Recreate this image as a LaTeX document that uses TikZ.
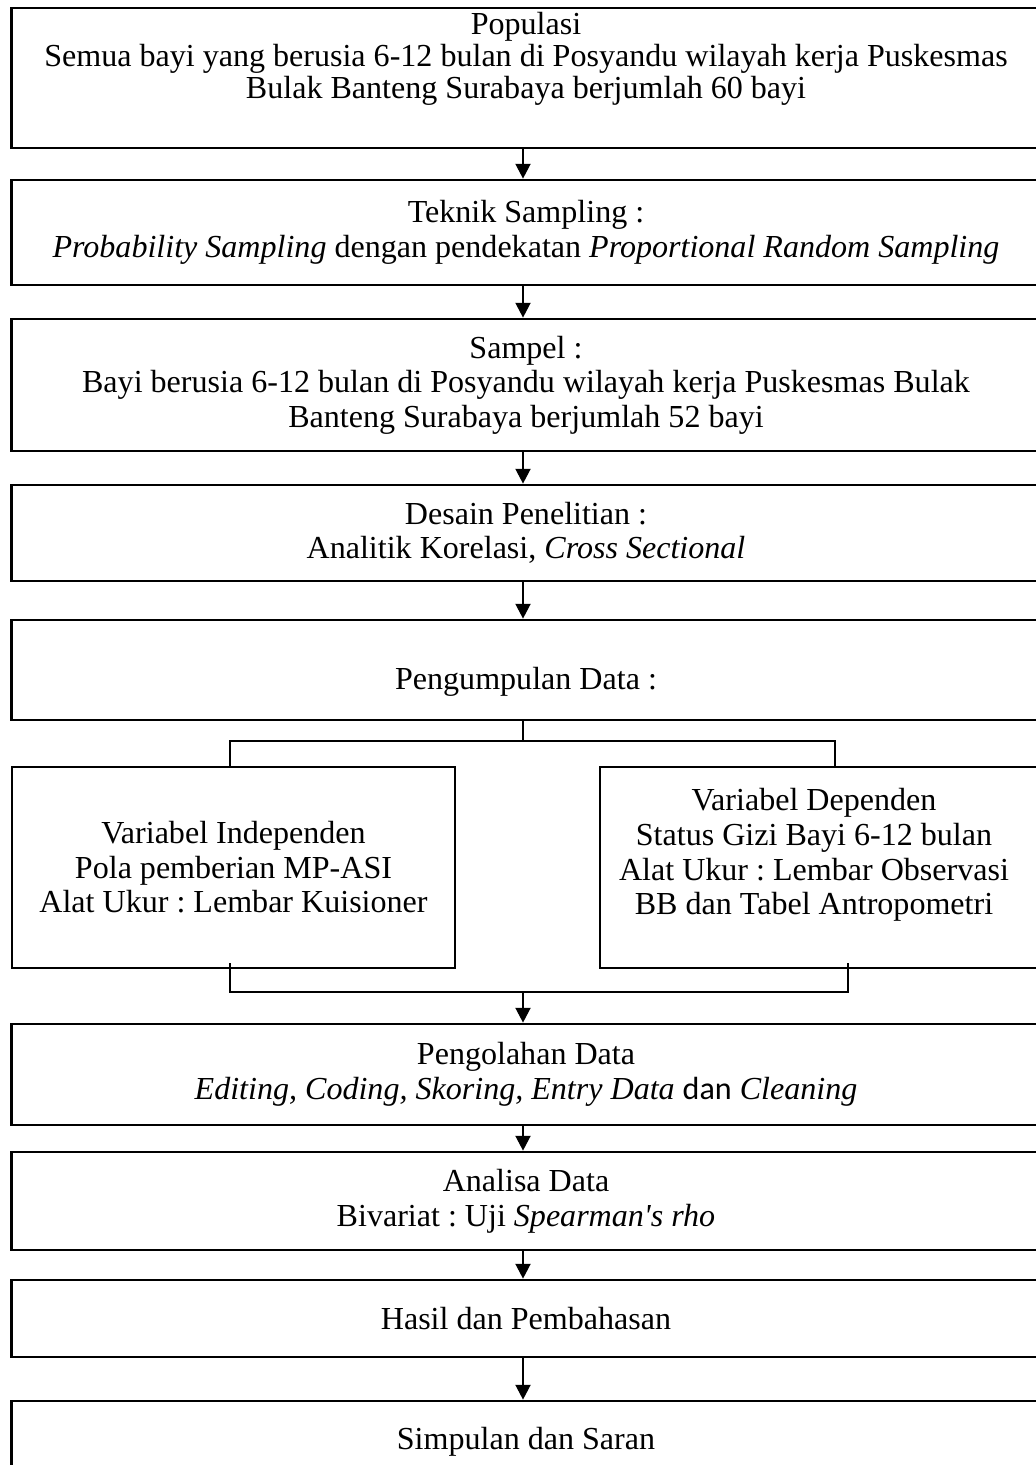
\documentclass[tikz,border=0pt]{standalone}
\usepackage{fontspec}
\setmainfont{Liberation Serif}
\newfontfamily\calibri{Carlito}
\usetikzlibrary{arrows.meta,positioning}

\begin{document}
\frenchspacing
\begin{tikzpicture}[x=0.025cm,y=-0.025cm,>={Triangle[length=0.37cm,width=0.38cm]},line join=miter]
  \tikzset{
    flowbox/.style={draw=black,line width=2pt,align=center,inner sep=0pt,
      font=\fontsize{22.8}{24.6}\selectfont},
    wide/.style={flowbox,minimum width=25.7cm},
    boxtext/.style={align=center,inner sep=0pt,font=\fontsize{22.8}{24.6}\selectfont},
    link/.style={line width=0.9pt}
  }
  \useasboundingbox (0,0) rectangle (1036,1465);
  % main column
  \node[wide,minimum height=3.5cm] (popul) at (526,78) {};
  \node[boxtext,font=\fontsize{22.8}{22.6}\selectfont] (popultext) at (526,59)
    {Populasi\\Semua bayi yang berusia 6-12 bulan di Posyandu wilayah kerja Puskesmas\\Bulak Banteng Surabaya berjumlah 60 bayi};
  \node[wide,minimum height=2.625cm] (sampling) at (526,232.5)
    {Teknik Sampling :\\\textit{Probability Sampling} dengan pendekatan \textit{Proportional Random Sampling}};
  \node[wide,minimum height=3.3cm] (sampel) at (526,385)
    {Sampel :\\Bayi berusia 6-12 bulan di Posyandu wilayah kerja Puskesmas Bulak\\Banteng Surabaya berjumlah 52 bayi};
  \node[wide,minimum height=2.4cm] (desain) at (526,533)
    {Desain Penelitian :\\Analitik Korelasi, \textit{Cross Sectional}};
  \node[wide,minimum height=2.5cm] (kumpul) at (526,670) {};
  \node[boxtext] (kumpultext) at (526,682) {Pengumpulan Data :};
  % variables
  \node[flowbox,minimum width=11.075cm,minimum height=5.025cm] (indep) at (233.5,867.5)
    {Variabel Independen\\Pola pemberian MP-ASI\\Alat Ukur : Lembar Kuisioner};
  \node[flowbox,minimum width=11cm,minimum height=5.025cm] (depen) at (820,867.5) {};
  \node[boxtext] (depentext) at (814,855)
    {Variabel Dependen\\Status Gizi Bayi 6-12 bulan\\Alat Ukur : Lembar Observasi\\BB dan Tabel Antropometri};
  \node[wide,minimum height=2.525cm] (olah) at (526,1074.5)
    {Pengolahan Data\\\textit{Editing, Coding, Skoring, Entry Data} {\calibri dan} \textit{Cleaning}};
  \node[wide,minimum height=2.45cm] (analisa) at (526,1201)
    {Analisa Data\\Bivariat : Uji \textit{Spearman\textquotesingle s rho}};
  \node[wide,minimum height=1.925cm] (hasil) at (526,1318.5) {Hasil dan Pembahasan};
  \node[wide,minimum height=1.95cm] (simpulan) at (526,1440) {};
  \node[boxtext] (simpulantext) at (526,1442) {Simpulan dan Saran};
  % arrows
  \foreach \a/\b in {popul/sampling,sampling/sampel,sampel/desain,desain/kumpul,olah/analisa,analisa/hasil,hasil/simpulan}
    \draw[link,->] (\a.south -| 523,0) -- (\b.north -| 523,0);
  % split and join
  \coordinate (split) at (523,741);
  \coordinate (join) at (523,992);
  \draw[link] (kumpul.south -| split) -- (split);
  \draw[link] (indep.north -| 230,0) |- (split) -| (depen.north -| 835,0);
  \draw[link] ([yshift=0.15cm]indep.south -| 230,0) |- (join) -| ([yshift=0.15cm]depen.south -| 848,0);
  \draw[link,->] (join) -- (olah.north -| join);
\end{tikzpicture}
\end{document}
